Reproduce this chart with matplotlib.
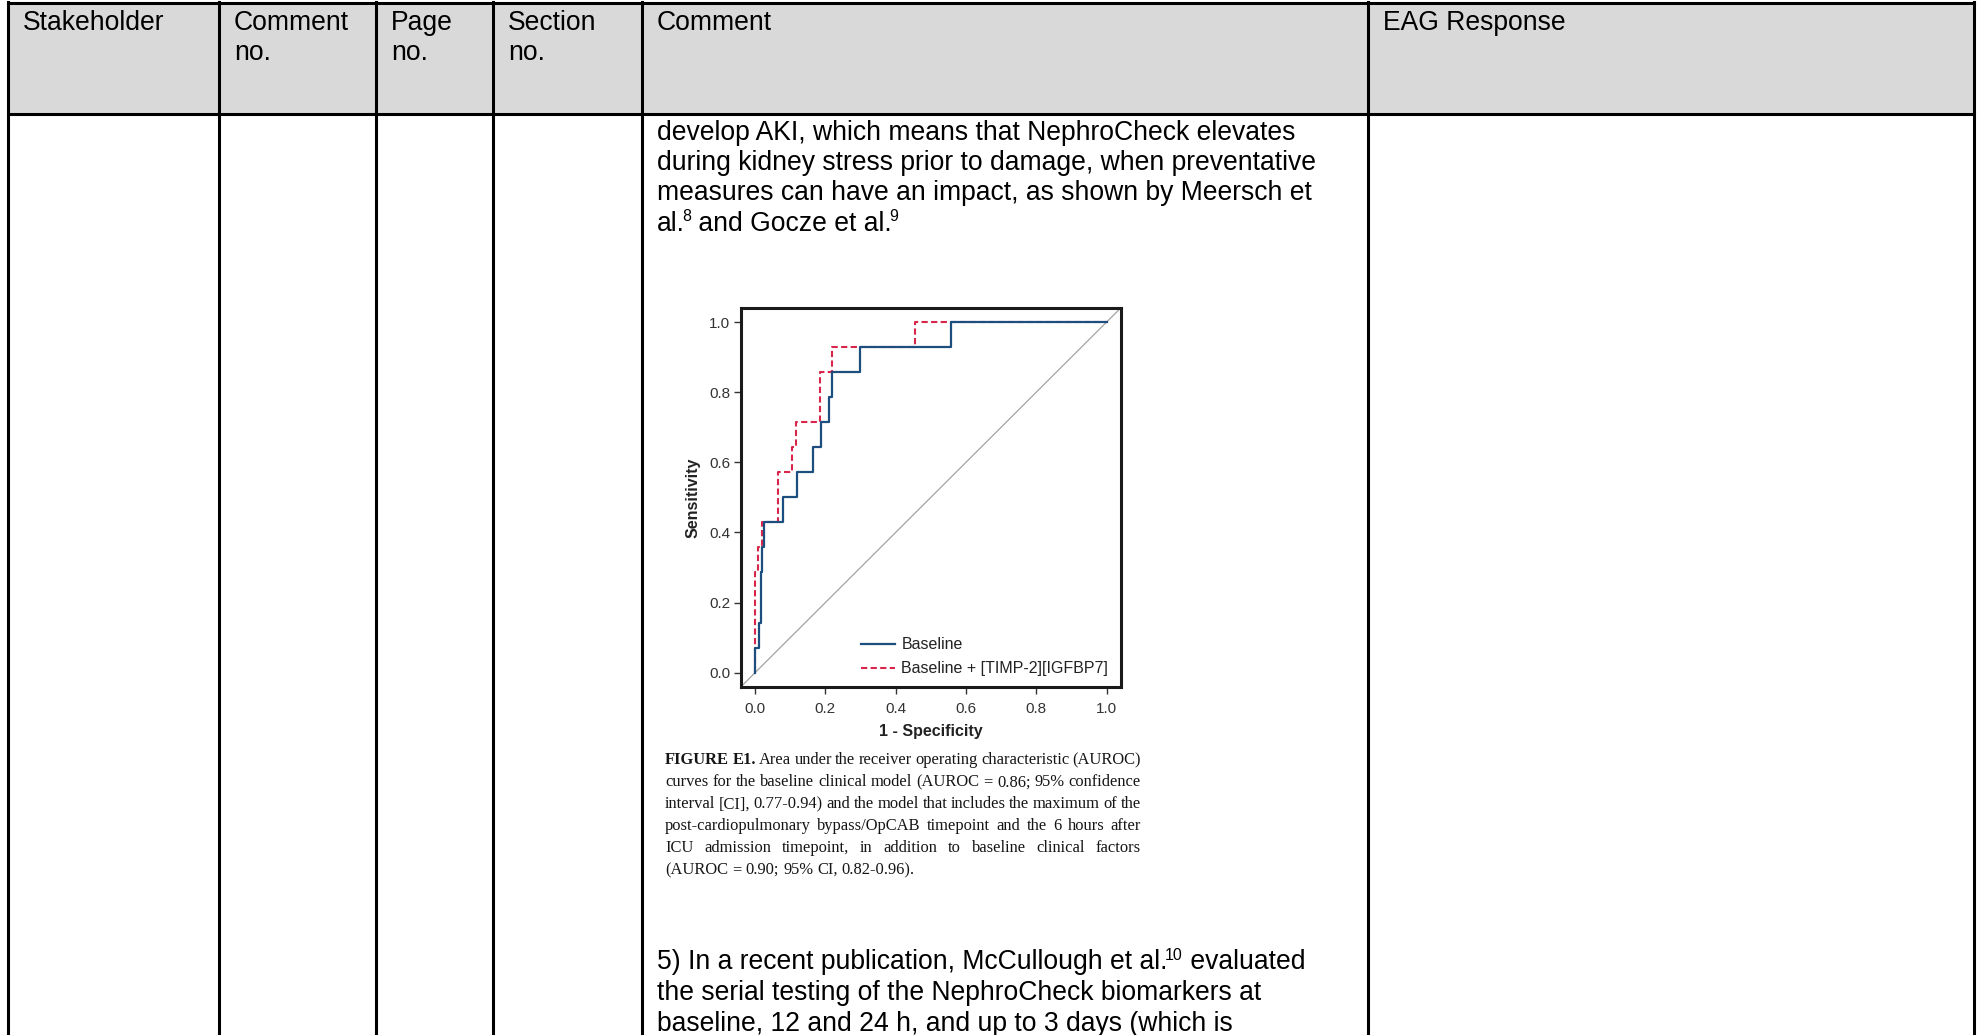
import matplotlib
matplotlib.use("Agg")
import matplotlib.pyplot as plt

# ---- data -------------------------------------------------------------
header_cells = [["Stakeholder"], ["Comment", "no."], ["Page", "no."],
                ["Section", "no."], ["Comment"], ["EAG Response"]]

body_top = [[("develop AKI, which means that NephroCheck elevates", False)],
            [("during kidney stress prior to damage, when preventative", False)],
            [("measures can have an impact, as shown by Meersch et", False)],
            [("al.", False), ("8", True), (" and Gocze et al.", False), ("9", True)]]

body_bottom = [[("5) In a recent publication, McCullough et al.", False), ("10", True),
                (" evaluated", False)],
               [("the serial testing of the NephroCheck biomarkers at", False)],
               [("baseline, 12 and 24 h, and up to 3 days (which is", False)]]

caption = ["FIGURE E1. Area under the receiver operating characteristic (AUROC)",
           "curves for the baseline clinical model (AUROC = 0.86; 95% confidence",
           "interval [CI], 0.77-0.94) and the model that includes the maximum of the",
           "post-cardiopulmonary bypass/OpCAB timepoint and the 6 hours after",
           "ICU admission timepoint, in addition to baseline clinical factors",
           "(AUROC = 0.90; 95% CI, 0.82-0.96)."]

# ROC vertices, 1 - specificity / sensitivity
fpr_base = [0, 0, 0.011, 0.011, 0.016, 0.016, 0.019, 0.019, 0.024, 0.024, 0.079, 0.079,
            0.118, 0.118, 0.166, 0.166, 0.188, 0.188, 0.209, 0.209, 0.220, 0.220,
            0.299, 0.299, 0.557, 0.557, 1.0]
tpr_base = [0, 0.071, 0.071, 0.143, 0.143, 0.286, 0.286, 0.357, 0.357, 0.429, 0.429, 0.5,
            0.5, 0.571, 0.571, 0.643, 0.643, 0.714, 0.714, 0.786, 0.786, 0.857,
            0.857, 0.929, 0.929, 1.0, 1.0]
fpr_combo = [0, 0, 0.007, 0.007, 0.019, 0.019, 0.064, 0.064, 0.104, 0.104, 0.117, 0.117,
             0.185, 0.185, 0.220, 0.220, 0.455, 0.455, 1.0]
tpr_combo = [0, 0.286, 0.286, 0.357, 0.357, 0.429, 0.429, 0.571, 0.571, 0.643, 0.643, 0.714,
             0.714, 0.857, 0.857, 0.929, 0.929, 1.0, 1.0]
ticks = [0.0, 0.2, 0.4, 0.6, 0.8, 1.0]
legend_labels = ["Baseline", "Baseline + [TIMP-2][IGFBP7]"]

# ---- page / table ----------------------------------------------------
W, H = 1982, 1035
fig = plt.figure(figsize=(W / 100, H / 100), dpi=100)
page = fig.add_axes([0, 0, 1, 1], zorder=0)
page.set_xlim(0, W)
page.set_ylim(H, 0)
page.axis("off")
renderer = fig.canvas.get_renderer()

col_x = [8, 219, 376, 493, 642, 1368, 1974]
top_y, head_y = 3, 113.5
SANS = "Liberation Sans"
SERIF = "Liberation Serif"
lw_tab = 2.2

page.fill_between([col_x[0], col_x[-1]], top_y, head_y, color="#d9d9d9", lw=0)
page.plot([col_x[0], col_x[-1]], [top_y, top_y], color="black", lw=lw_tab)
page.plot([col_x[0], col_x[-1]], [head_y, head_y], color="black", lw=lw_tab)
for cx in col_x:
    page.plot([cx, cx], [top_y - 1, H + 5], color="black", lw=lw_tab)


def width(s, **kw):
    a = page.text(0, 0, "x" + s + "x", **kw)
    b = page.text(0, 0, "xx", **kw)
    w = a.get_window_extent(renderer).width - b.get_window_extent(renderer).width
    a.remove()
    b.remove()
    return w


FS = 19.1
for cx, cell in zip(col_x, header_cells):
    for i, s in enumerate(cell):
        page.text(cx + 15, 29.5 + i * 30.4, s, family=SANS, fontsize=FS,
                  va="baseline", ha="left", color="black")


def draw_runs(x, y, runs):
    for s, sup in runs:
        fs = FS * 0.6 if sup else FS
        yy = y - 9.5 if sup else y
        if sup:
            x -= 2.5
        page.text(x, yy, s, family=SANS, fontsize=fs, va="baseline", ha="left",
                  color="black")
        x += width(s, family=SANS, fontsize=fs)


for i, runs in enumerate(body_top):
    draw_runs(657, 139.5 + i * 30.4, runs)
for i, runs in enumerate(body_bottom):
    draw_runs(657, 969 + i * 31, runs)

# caption, justified
CFS = 11.9
cx0, cx1 = 665, 1141
for i, line in enumerate(caption):
    words = line.split(" ")
    weights = ["bold" if (i == 0 and j < 2) else "normal" for j in range(len(words))]
    widths = [width(w, family=SERIF, fontsize=CFS, weight=wt) for w, wt in zip(words, weights)]
    if i == len(caption) - 1:
        gap = width(" ", family=SERIF, fontsize=CFS)
    else:
        gap = (cx1 - cx0 - sum(widths)) / (len(words) - 1)
    x = cx0
    y = 764.5 + i * 21.9
    for w, wt, ww in zip(words, weights, widths):
        page.text(x, y, w, family=SERIF, fontsize=CFS, weight=wt, va="baseline",
                  ha="left", color="#151515")
        x += ww + gap

# ---- ROC chart --------------------------------------------------------
ax = fig.add_axes([741 / W, 1 - 686.7 / H, 379.7 / W, 378.7 / H], zorder=2)
ax.axline((0, 0), (1, 1), color="#a3a3a3", lw=0.9)
red, = ax.plot(fpr_combo, tpr_combo, color="#d8264b", lw=1.5, dashes=(3, 1.6))
blue, = ax.plot(fpr_base, tpr_base, color="#1c4f7f", lw=1.6)
ax.set_xlim(-0.04, 1.04)
ax.set_ylim(-0.04, 1.04)
ax.set_xticks(ticks, ["%.1f" % t for t in ticks])
ax.set_yticks(ticks, ["%.1f" % t for t in ticks])
ax.tick_params(direction="out", length=4.8, width=1.0, pad=3, labelsize=11,
               labelcolor="#333333", color="#333333")
ax.tick_params(axis="x", pad=6.5)
for lab in ax.get_xticklabels() + ax.get_yticklabels():
    lab.set_family(SANS)
for sp in ax.spines.values():
    sp.set_linewidth(2.2)
    sp.set_color("#1a1a1a")
ax.set_xlabel("1 - Specificity", family=SANS, fontsize=11.5, weight="bold",
              color="#222222", labelpad=5.5)
ax.set_ylabel("Sensitivity", family=SANS, fontsize=11.5, weight="bold",
              color="#222222", labelpad=6)
ax.legend([blue, red], legend_labels, loc="lower right", bbox_to_anchor=(0.967, 0.028),
          frameon=False, prop={"family": SANS, "size": 11.5}, handlelength=2.1,
          handletextpad=0.4, labelspacing=0.55, borderaxespad=0, borderpad=0,
          labelcolor="#222222")

fig.savefig("out.png", dpi=100)
